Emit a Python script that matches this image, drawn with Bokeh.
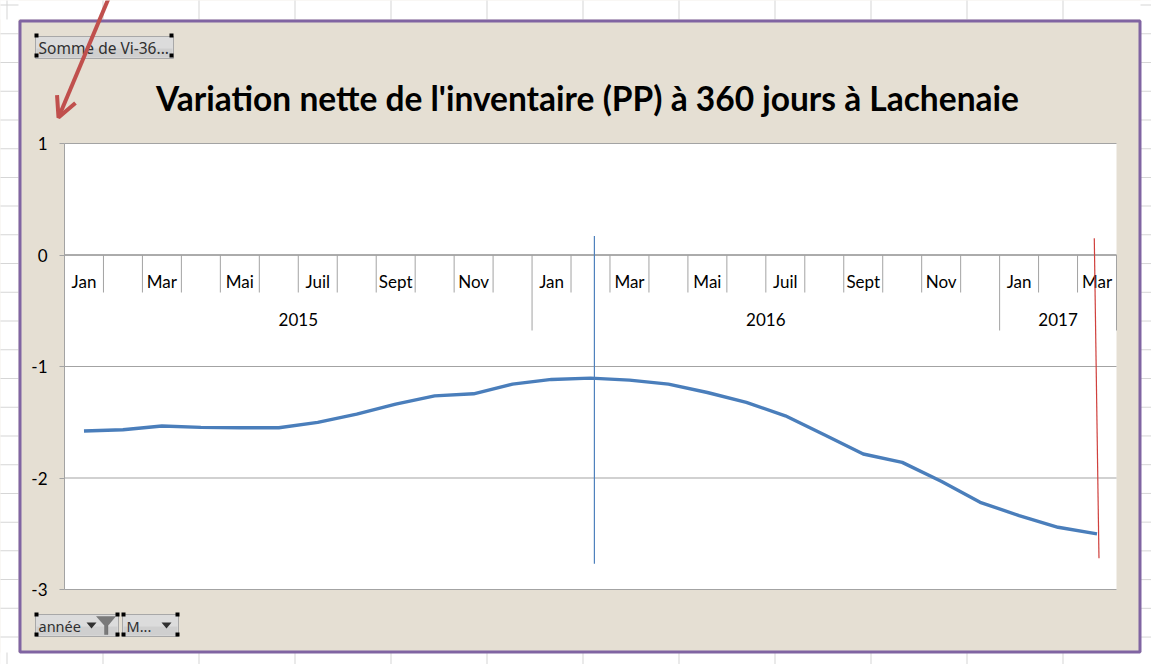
from bokeh.plotting import figure
from bokeh.models import (Range1d, BoxAnnotation, Label, Arrow, OpenHead,
                          PolyAnnotation, FixedTicker, PrintfTickFormatter)
from bokeh.embed import file_html
from bokeh.resources import INLINE
from bokeh.core.properties import value

# ---------------- data ----------------
years = ["2015", "2016", "2017"]
months_per_year = [12, 12, 3]
month_names = ["Jan", "Fév", "Mar", "Avr", "Mai", "Juin",
               "Juil", "Août", "Sept", "Oct", "Nov", "Déc"]
values = [-1.579, -1.567, -1.534, -1.546, -1.549, -1.549,
          -1.501, -1.427, -1.337, -1.263, -1.245, -1.158,
          -1.116, -1.104, -1.122, -1.158, -1.233, -1.322,
          -1.442, -1.612, -1.785, -1.860, -2.030, -2.218,
          -2.337, -2.442, -2.501]
y_ticks = [1, 0, -1, -2, -3]
blue_rule_x = [13.6, 13.6]
blue_rule_y = [0.17, -2.77]
red_rule_x = [26.43, 26.55]
red_rule_y = [0.15, -2.72]
title_text = "Variation nette de l'inventaire (PP) à 360 jours à Lachenaie"

# ---------------- layout constants ----------------
W, H = 1151, 664
PL, PT, PW, PH = 64, 143, 1052, 446     # plot area (pixels)
N = sum(months_per_year)
YMIN, YMAX = -3, 1

def dx(px):  # pixel -> data x
    return (px - PL) / PW * N

def dy(py):  # pixel -> data y
    return YMAX - (py - PT) / PH * (YMAX - YMIN)

BEIGE = "#e5dfd3"
PURPLE = "#8064a2"
SHEET = "#d6d6d6"
GRID = "#a3a3a3"

p = figure(width=W, height=H, x_range=Range1d(dx(0), dx(W)),
           y_range=Range1d(dy(H), dy(0)), x_axis_type=None,
           output_backend="svg", toolbar_location=None,
           min_border=0, min_border_left=0, min_border_right=0,
           min_border_top=0, min_border_bottom=0)
p.background_fill_color = BEIGE
p.border_fill_color = BEIGE
p.outline_line_color = None
p.xgrid.visible = False
p.ygrid.visible = False

yax = p.yaxis[0]
yax.fixed_location = 0
yax.bounds = (YMIN, YMAX)
yax.ticker = FixedTicker(ticks=y_ticks)
yax.formatter = PrintfTickFormatter(format="%d")
yax.axis_line_color = GRID
yax.major_tick_line_color = GRID
yax.major_tick_out = 5
yax.major_tick_in = 0
yax.minor_tick_line_color = None
yax.major_label_standoff = 12
yax.major_label_text_font = "Lato"
yax.major_label_text_font_size = "17px"
yax.major_label_text_color = "black"

# white plot area
p.add_layout(BoxAnnotation(left=0, right=N, top=YMAX, bottom=YMIN,
                           fill_color="white", fill_alpha=1, line_color=None,
                           level="underlay"))

# horizontal gridlines
p.segment(x0=[0] * len(y_ticks), y0=y_ticks, x1=[N] * len(y_ticks), y1=y_ticks,
          line_color=GRID, line_width=1)

# ---------------- category axis at y = 0 ----------------
xc = [i + 0.5 for i in range(N)]
month_seq = []
year_seq = []
for yr, n in zip(years, months_per_year):
    month_seq += month_names[:n]
    year_seq += [yr] * n
shown = [m if i % 2 == 0 else "" for i, m in enumerate(month_seq)]

p.segment(x0=0, y0=0, x1=N, y1=0, line_color="#868686", line_width=1)

bounds = list(range(N + 1))
year_starts = [0]
for n in months_per_year:
    year_starts.append(year_starts[-1] + n)
short_b = [b for b in bounds if b not in year_starts]
long_b = year_starts
p.segment(x0=short_b, y0=[0] * len(short_b), x1=short_b,
          y1=[dy(292)] * len(short_b), line_color=GRID, line_width=1)
p.segment(x0=long_b, y0=[0] * len(long_b), x1=long_b,
          y1=[dy(330)] * len(long_b), line_color=GRID, line_width=1)

p.text(x=xc, y=[dy(281)] * N, text=shown, text_font=value("Lato"),
       text_font_size="17px", text_align="center", text_baseline="middle",
       text_color="black")
year_x = [(year_starts[i] + year_starts[i + 1]) / 2 for i in range(len(years))]
p.text(x=year_x, y=[dy(319)] * len(years), text=years, text_font=value("Lato"),
       text_font_size="17px", text_align="center", text_baseline="middle",
       text_color="black")

# ---------------- series ----------------
p.line(x=xc, y=values, line_color="#4a7ebb", line_width=3.4, line_join="round")
p.line(x=blue_rule_x, y=blue_rule_y, line_color="#4f81bd", line_width=1.2)
p.line(x=red_rule_x, y=red_rule_y, line_color="#d0403d", line_width=1.2)

# ---------------- decorations outside plot area ----------------
def box(x0, y0, x1, y1, fill=None, line=None, lw=1):
    p.add_layout(BoxAnnotation(left=dx(x0), right=dx(x1), top=dy(y0), bottom=dy(y1),
                               fill_color=fill if fill else "white",
                               fill_alpha=1 if fill else 0,
                               line_color=line, line_width=lw,
                               line_alpha=1 if line else 0))

# spreadsheet strips
box(-5, -5, 18, 680, fill="white")
box(-5, -5, 1160, 19, fill="white")
box(1140, -5, 1160, 680, fill="white")
box(-5, 652, 1160, 680, fill="white")
for k in range(13):
    cx = 6 + 96 * k
    box(cx, -5, cx + 1, 19, fill=SHEET)
    box(cx, 652, cx + 1, 680, fill=SHEET)
for k in range(24):
    ry = 4 + 28.73 * k
    box(-5, ry, 18, ry + 1, fill=SHEET)
    box(1140, ry, 1160, ry + 1, fill=SHEET)
# purple frame
box(19.5, 20.5, 1139.5, 651.5, line=PURPLE, lw=3)

# title
p.add_layout(Label(x=dx(587), y=dy(97), text=title_text, text_align="center",
                   text_baseline="middle", text_font="Lato",
                   text_font_style="bold", text_font_size="33.5px",
                   text_color="black"))

# buttons
def handles(x0, y0, x1, y1):
    for hx, hy in [(x0, y0), (x1, y0), (x0, y1), (x1, y1)]:
        box(hx - 2, hy - 2, hx + 2, hy + 2, fill="black")

box(35, 36, 173, 58, fill="#dcdcdc", line="#a8a8a8")
box(36, 48, 172, 57, fill="#cfcfcf")
p.add_layout(Label(x=dx(38), y=dy(47), text="Somme de Vi-36...", text_align="left",
                   text_baseline="middle", text_font="Noto Sans",
                   text_font_size="15.5px", text_color="#303030"))
handles(36, 35, 171, 55)

box(35, 614, 118, 636, fill="#dcdcdc", line="#a8a8a8")
box(36, 626, 117, 635, fill="#cfcfcf")
box(122, 614, 178, 636, fill="#dcdcdc", line="#a8a8a8")
box(123, 626, 177, 635, fill="#cfcfcf")
p.add_layout(Label(x=dx(38), y=dy(625), text="année", text_align="left",
                   text_baseline="middle", text_font="Noto Sans",
                   text_font_size="14.5px", text_color="#303030"))
p.add_layout(Label(x=dx(126), y=dy(625), text="M...", text_align="left",
                   text_baseline="middle", text_font="Noto Sans",
                   text_font_size="14.5px", text_color="#303030"))
for tx in (91, 166):
    p.add_layout(PolyAnnotation(xs=[dx(tx - 5), dx(tx + 5), dx(tx)],
                                ys=[dy(622), dy(622), dy(628)],
                                fill_color="#303030", fill_alpha=1, line_color=None))
p.add_layout(PolyAnnotation(xs=[dx(96), dx(115), dx(107.5), dx(107.5), dx(104), dx(104)],
                            ys=[dy(616), dy(616), dy(625), dy(634), dy(634), dy(625)],
                            fill_color="#7a7a7a", fill_alpha=1, line_color="#555555"))
handles(36, 614, 117, 634)
handles(123, 614, 177, 634)

# red arrow
p.add_layout(Arrow(end=OpenHead(line_color="#c0504d", line_width=4, size=20),
                   x_start=dx(108), y_start=dy(-2), x_end=dx(58), y_end=dy(117),
                   line_color="#c0504d", line_width=4))

open("out.html", "w").write(file_html(p, INLINE))
